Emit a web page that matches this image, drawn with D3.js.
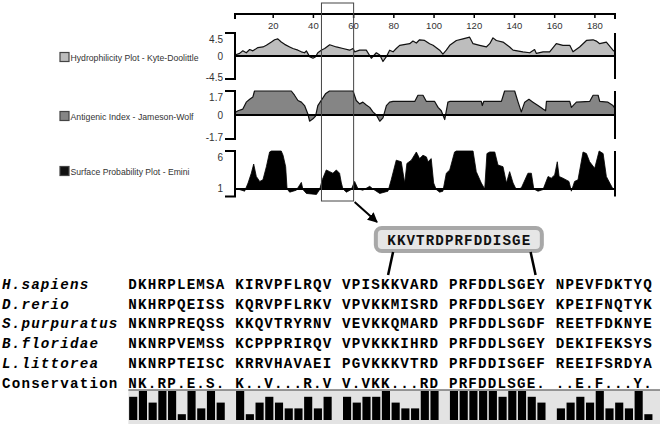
<!DOCTYPE html>
<html><head><meta charset="utf-8">
<script src="https://cdn.jsdelivr.net/npm/d3@7"></script>
<style>body{margin:0;background:#fff}svg{display:block}</style>
</head><body>
<svg id="c" width="660" height="424"></svg>
<script>
// ---------- data ----------
const axisTicks = [20,40,60,80,100,120,140,160,180];
const seqRange = [1,190];
const highlight = [44,60];

const hydroPos = [1,3.3,4.9,6.6,8.3,9.9,12.4,14.9,16.6,19.1,20.7,22.3,24,25.7,28.2,29.8,32.3,34,35.6,36.5,38.1,39.8,41.1,42.2,43.9,45.6,48.1,51.4,54.7,58,59.7,60.5,63,66.3,68.8,71.3,73,74.6,76.3,77.9,79.6,81.2,82.9,87.9,89.5,91.2,92.8,95.3,97.8,99.5,102.8,104.4,106.1,107.8,111.1,114.4,117.7,119.4,122.7,126,127.7,129.3,131,134.3,137.6,139.3,144.2,147.6,150,150.9,154.2,157.5,160.8,164.1,167.5,169.1,172.4,175.8,179.1,180.7,182.4,185.7,189,190];
const hydroVal = [0.19,0.51,1.01,0.63,1.27,1.01,1.65,1.77,2.09,2.73,3.17,3.36,2.73,2.28,1.77,1.46,1.14,0.82,0.63,1.01,-0.13,-0.44,-0.13,0.63,1.14,1.46,2.2,1.77,1.46,1.14,1.46,0.82,1.14,1.14,-0.44,0.63,0.19,-1.08,-0.13,1.14,0.82,1.46,2.09,2.41,2.92,2.54,3.17,3.04,2.41,2.09,1.14,0.38,1.14,2.09,3.04,3.36,3.68,2.41,2.09,1.77,2.41,3.55,3.04,2.73,1.77,1.14,0.82,0.63,1.27,0.51,0.82,0.82,2.41,2.09,2.09,0.82,1.77,3.04,3.17,2.92,2.41,2.73,1.14,0.82];

const antiPos = [1,2.5,4.9,6.6,8.3,9.9,10.7,29,30.6,32.3,34,35.6,37.3,38.1,39.8,41.1,42.2,43.9,46,48,59.7,61.3,63,64.6,66.3,68,69.6,71.3,73,74.6,76.3,77.9,79.6,90.4,92,94.5,96.2,100.3,102,103.6,105.3,106.9,107.8,123.5,124,124.7,133.5,135.1,140.1,141.8,143.4,145.1,147.2,149.2,151.7,154.2,155.5,155.9,167.5,168.3,170.8,177.4,179.1,181.6,182.4,186.5,189,190];
const antiVal = [0.17,0.3,0.42,0.91,1.11,1.28,1.7,1.7,1.4,1.03,0.91,0.67,0.05,-0.44,-0.27,-0.07,0.67,1.03,1.5,1.7,1.7,1.03,0.79,0.91,0.71,0.54,0.22,0,-0.44,-0.2,0.67,0.91,0.96,0.96,1.4,1.4,0.96,0.96,0.54,0.3,-0.32,0.91,0.96,0.96,0.67,0.96,0.96,1.7,1.7,0.91,0.22,0.91,1.11,0.91,0.67,0.42,0.3,0.96,0.96,0.54,0.91,0.96,1.4,1.4,0.96,0.91,0.67,0.47];

const surfPos = [1,3.3,5.8,7.5,9.1,10.3,11.6,13.3,14.9,16.6,18.2,19.1,24,24.9,26.2,26.9,28.2,31.5,34,34.8,36.5,41.5,43.1,44.4,46.4,48.1,49.7,51.4,53,53.9,54.7,56.4,58.8,60.5,62.2,64.6,68,69.6,73,77.1,78.7,81.2,83.7,85.4,86.5,88.7,91.2,92.8,94.5,96.2,97,98.6,99.8,101.1,102.8,104.4,106.1,107.8,110.2,111.1,119.4,121,123.5,125.2,126.3,127.7,130.2,131.8,134.3,136,137.6,139.3,140.9,143.4,146.7,148.4,149.6,151.7,154.2,156.7,158.3,160,161.3,162.2,164.1,167.1,168.3,169.9,171.6,174.1,175.8,177.4,179.9,182.1,184.1,185.7,187.4,189,190];
const surfVal = [1,0.91,0.7,1.78,3.07,4.28,2.64,1.99,2.21,3.93,5.87,6,6,5.44,3.93,1,0.57,0.83,1.86,0.91,0.4,0.27,0.91,2.21,3.5,3.28,3.07,3.5,3.07,1.78,1,0.57,0.91,1.99,1,0.83,1.34,1,0.4,0.7,2.21,4.79,4.58,1.78,4.36,4.79,5.87,5,5.44,5.22,4.58,5,1.78,0.91,0.57,0.7,3.07,3.5,5.87,6,6,3.28,1.78,1,5.66,5.87,5.87,4.15,3.93,1.78,3.28,1.78,0.91,1.13,3.07,3.07,1,0.7,0.91,2.64,2.42,2.85,4.58,2.64,2.42,1.99,0.7,1.99,2.21,5.87,5.66,4.58,3.72,6,5.66,2.64,1.78,1,0.9];

const panelNames = ["Hydrophilicity Plot - Kyte-Doolittle","Antigenic Index - Jameson-Wolf","Surface Probability Plot - Emini"];
const panelTickLabels = [["4.5","0","-4.5"],["1.7","0","-1.7"],["6","1"]];

const peptide = "KKVTRDPRFDDISGE";
const speciesNames = ["H.sapiens","D.rerio","S.purpuratus","B.floridae","L.littorea"];
const speciesSeqs = [
  "DKHRPLEMSA KIRVPFLRQV VPISKKVARD PRFDDLSGEY NPEVFDKTYQ",
  "NKHRPQEISS KQRVPFLRKV VPVKKMISRD PRFDDLSGEY KPEIFNQTYK",
  "NKNRPREQSS KKQVTRYRNV VEVKKQMARD PRFDDLSGDF REETFDKNYE",
  "NKNRPVEMSS KCPPPRIRQV VPVKKKIHRD PRFDDLSGEY DEKIFEKSYS",
  "NKNRPTEISC KRRVHAVAEI PGVKKKVTRD PRFDDISGEF REEIFSRDYA"
];
const consLabel = "Conservation";
const consSeq = "NK.RP.E.S. K..V...R.V V.VKK...RD PRFDDLSGE. ..E.F...Y.";
const consScore = [4,5,3,5,5,1,5,2,5,3,null,5,1,3,4,3,2,2,4,2,4,null,4,3,4,4,5,3,2,2,5,5,null,5,5,5,5,5,4,5,5,4,3,null,2,3,4,3,5,2,3,2,5,1];

// ---------- drawing ----------
const svg = d3.select("#c");
const x = d3.scaleLinear().domain(seqRange).range([235,615]);
const sans = "'Liberation Sans', Arial, sans-serif";
const mono = "'Liberation Mono', 'Courier New', monospace";

// top axis
const gTop = svg.append("g");
gTop.append("line").attr("x1",x(seqRange[0])).attr("x2",x(seqRange[1])).attr("y1",14).attr("y2",14)
  .attr("stroke","#000").attr("stroke-width",2);
[seqRange[0],seqRange[1]].forEach(v=>gTop.append("line").attr("x1",x(v)).attr("x2",x(v)).attr("y1",13).attr("y2",19).attr("stroke","#000").attr("stroke-width",2));
gTop.selectAll("line.t").data(axisTicks).join("line").attr("class","t")
  .attr("x1",d=>x(d)).attr("x2",d=>x(d)).attr("y1",14).attr("y2",18).attr("stroke","#000").attr("stroke-width",1.5);
gTop.selectAll("text").data(axisTicks).join("text")
  .attr("x",d=>x(d)).attr("y",28.5).attr("text-anchor","middle")
  .attr("font-family",sans).attr("font-size",9.5).attr("fill","#333").text(d=>d);

const panels = [
  {pos:hydroPos, val:hydroVal, dom:[-4.5,4.5], rng:[79,33], base:0, ticks:[4.5,0,-4.5], fill:"#bdbdbd", stroke:"#111", sw:1.2, icon:"#bdbdbd", legendY:57, legendW:128},
  {pos:antiPos, val:antiVal, dom:[-1.7,1.7], rng:[139,91], base:0, ticks:[1.7,0,-1.7], fill:"#858585", stroke:"#111", sw:1.2, icon:"#858585", legendY:116, legendW:123},
  {pos:surfPos, val:surfVal, dom:[0,6], rng:[196.5,151], base:1, ticks:[6,1], fill:"#000", stroke:"#000", sw:0.8, icon:"#111", legendY:171, legendW:119}
];

panels.forEach((p,i)=>{
  const y = d3.scaleLinear().domain(p.dom).range(p.rng);
  const data = p.pos.map((q,k)=>({p:q, v:p.val[k]}));
  const g = svg.append("g");
  g.append("path").datum(data)
    .attr("d", d3.area().x(d=>x(d.p)).y0(y(p.base)).y1(d=>y(d.v)))
    .attr("fill",p.fill);
  g.append("path").datum(data)
    .attr("d", d3.line().x(d=>x(d.p)).y(d=>y(d.v)))
    .attr("fill","none").attr("stroke",p.stroke).attr("stroke-width",p.sw).attr("stroke-linejoin","round");
  g.append("line").attr("x1",x(seqRange[0])).attr("x2",x(seqRange[1])).attr("y1",y(p.base)).attr("y2",y(p.base))
    .attr("stroke","#000").attr("stroke-width",2);
  const yTop = y(p.dom[1]), yBot = y(p.dom[0]);
  g.append("path").attr("d",`M${x(seqRange[0])-10},${yTop}H${x(seqRange[0])}V${yBot}H${x(seqRange[0])-10}`)
    .attr("fill","none").attr("stroke","#000").attr("stroke-width",2);
  g.append("line").attr("x1",x(seqRange[1])).attr("x2",x(seqRange[1])).attr("y1",yTop).attr("y2",yBot)
    .attr("stroke","#000").attr("stroke-width",2);
  p.ticks.forEach((t,k)=>{
    let ty = y(t);
    if (k===0) ty += 9.5; else if (t===p.base) ty += 3.5; else ty += 1.5;
    if (i===2 && k===1) ty = y(t)+3;
    g.append("text").attr("x",223).attr("y",ty).attr("text-anchor","end")
      .attr("font-family",sans).attr("font-size",10).attr("fill","#333").text(panelTickLabels[i][k]);
  });
  g.append("rect").attr("x",60).attr("y",p.legendY-4.5).attr("width",9).attr("height",9)
    .attr("fill",p.icon).attr("stroke","#444").attr("stroke-width",1.2);
  g.append("text").attr("x",70.5).attr("y",p.legendY+3.5)
    .attr("font-family",sans).attr("font-size",9.5).attr("fill","#333")
    .attr("textLength",p.legendW).attr("lengthAdjust","spacingAndGlyphs").text(panelNames[i]);
});

// highlight box + arrow
svg.append("rect").attr("x",x(highlight[0])).attr("y",3).attr("width",x(highlight[1])-x(highlight[0])).attr("height",198)
  .attr("fill","none").attr("stroke","#444").attr("stroke-width",1);
const defs = svg.append("defs");
defs.append("marker").attr("id","ah").attr("viewBox","0 0 10 10").attr("refX",9).attr("refY",5)
  .attr("markerWidth",5).attr("markerHeight",5).attr("orient","auto")
  .append("path").attr("d","M0,0L10,5L0,10z").attr("fill","#000");
svg.append("line").attr("x1",x(highlight[1])+1).attr("y1",202).attr("x2",377).attr("y2",222)
  .attr("stroke","#000").attr("stroke-width",2).attr("marker-end","url(#ah)");

// alignment
const cw = 9.72, fs = 14.2, ls = cw - fs*0.6;
const x0 = 2;
const seqX = x0 + 13*cw;
const col = d3.scaleLinear().domain([0,1]).range([seqX, seqX+cw]);
const rowY = [288.5,308.5,328,348,367.5,387.5];
function monoText(sel, tx, ty, str, italic){
  return sel.append("text").attr("x",tx).attr("y",ty).attr("font-family",mono).attr("font-weight","bold")
    .attr("font-style",italic?"italic":"normal").attr("font-size",fs).attr("letter-spacing",ls)
    .attr("fill","#000").style("white-space","pre").text(str);
}

// peptide box
const pepStart = 26, pepEnd = 42;
const pcx = (col(pepStart)+col(pepEnd))/2;
const pw = 166, ph = 23;
svg.append("rect").attr("x",pcx-pw/2).attr("y",228).attr("width",pw).attr("height",ph).attr("rx",6)
  .attr("fill","#e6e6e6").attr("stroke","#a8a8a8").attr("stroke-width",4);
monoText(svg, pcx - peptide.length*9.6/2 + 0.5, 245, peptide, false).attr("letter-spacing", 9.6-fs*0.6).attr("fill","#111");
svg.append("line").attr("x1",col(pepStart)+12).attr("y1",252).attr("x2",col(pepStart)+7).attr("y2",275)
  .attr("stroke","#000").attr("stroke-width",2.5);
svg.append("line").attr("x1",col(pepEnd)-6).attr("y1",252).attr("x2",col(pepEnd)-1).attr("y2",275)
  .attr("stroke","#000").attr("stroke-width",2.5);

speciesNames.forEach((n,i)=>{
  monoText(svg, x0, rowY[i], n, true);
  monoText(svg, seqX, rowY[i], speciesSeqs[i], false);
});
monoText(svg, x0, rowY[5], consLabel, false);
monoText(svg, seqX, rowY[5], consSeq, false);

// conservation bars
const by = d3.scaleLinear().domain([0,5]).range([420,391]);
svg.append("rect").attr("x",seqX).attr("y",390).attr("width",660-seqX).attr("height",34).attr("fill","#e3e3e3");
svg.append("line").attr("x1",seqX).attr("x2",660).attr("y1",390).attr("y2",390).attr("stroke","#777").attr("stroke-width",1.5);
svg.selectAll("rect.bar").data(consScore.map((s,i)=>({s,i})).filter(d=>d.s!==null)).join("rect").attr("class","bar")
  .attr("x",d=>col(d.i)+0.8).attr("width",cw-1.6).attr("y",d=>by(d.s)).attr("height",d=>by(0)-by(d.s)).attr("fill","#000");
</script>
</body></html>
